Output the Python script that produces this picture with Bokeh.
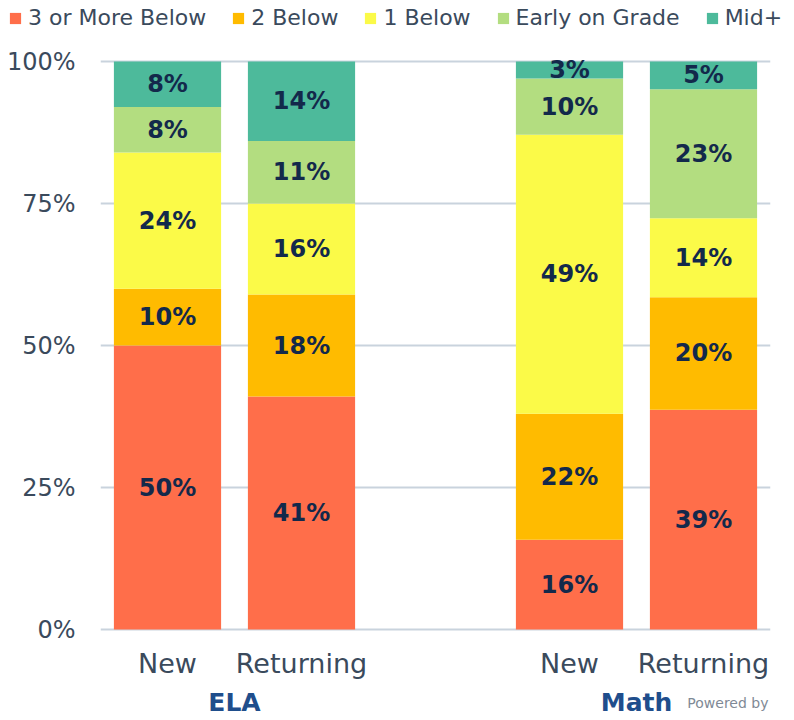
from bokeh.plotting import figure
from bokeh.models import (FactorRange, Range1d, FixedTicker, PrintfTickFormatter,
                          ColumnDataSource)
from bokeh.embed import file_html
from bokeh.resources import INLINE
from bokeh.core.properties import value

# ---------------- data ----------------
subjects = ["ELA", "ELA", "Math", "Math"]
groups = ["New", "Returning", "New", "Returning"]
subject_names = ["ELA", "Math"]
levels = ["3 or More Below", "2 Below", "1 Below", "Early on Grade", "Mid+"]
colors = ["#FF6E4A", "#FFBB00", "#FBFA48", "#B3DD80", "#4DBA9B"]

three_below = [50, 41, 15.8, 38.7]
two_below = [10, 18, 22.2, 19.8]
one_below = [24, 16, 49.1, 13.9]
early_on_grade = [8, 11, 9.9, 22.7]
mid_plus = [8, 14, 3.0, 4.9]

y_ticks = [0, 25, 50, 75, 100]

series = [three_below, two_below, one_below, early_on_grade, mid_plus]
keys = ["s0", "s1", "s2", "s3", "s4"]

FONT = "DejaVu Sans"
TXT = "#3A4A5C"
LBL = "#13294B"
W = 794

# ---------------- legend strip (own root, full-width frame) ----------------
LH = 45
leg = figure(width=W, height=LH, output_backend="svg", toolbar_location=None,
             x_range=Range1d(0, 1), y_range=Range1d(0, 1),
             min_border_left=0, min_border_right=0, min_border_top=0, min_border_bottom=0)
leg.xaxis.visible = False
leg.yaxis.visible = False
leg.grid.visible = False
leg.outline_line_color = None
for name, c in zip(levels, colors):
    # legend key proxies (the renderers themselves are hidden)
    leg.vbar(x=[0.5], top=[1], width=0.1, color=c, line_color=None,
             legend_label=name, visible=False)
lg = leg.legend[0]
lg.orientation = "horizontal"
lg.location = (8, 15)
lg.padding = 0
lg.margin = 0
lg.spacing = 25
lg.glyph_width = 14
lg.glyph_height = 14
lg.label_standoff = 6
lg.label_text_font = FONT
lg.label_text_font_size = "22px"
lg.label_text_color = TXT
lg.border_line_color = None
lg.background_fill_alpha = 0
lg.inactive_fill_alpha = 0

# ---------------- main chart ----------------
MH = 672
TOP = 14                      # frame top sits 59 px below page top
PX_PER_UNIT = 5.68            # 568 px for 0..100 %
TOP_PAD = 2.0 / PX_PER_UNIT
BOTTOM_EXTRA = (MH - TOP - 2 - 568) / PX_PER_UNIT   # room for the category labels

factors = list(zip(subjects, groups))
src = ColumnDataSource(dict(x=factors, **{k: s for k, s in zip(keys, series)}))

p = figure(width=W, height=MH, output_backend="svg", toolbar_location=None,
           x_range=FactorRange(*factors, group_padding=1.0, range_padding=0, factor_padding=0),
           y_range=Range1d(-BOTTOM_EXTRA, 100 + TOP_PAD),
           min_border_left=100, min_border_right=24, min_border_top=TOP, min_border_bottom=0)
p.outline_line_color = None
p.background_fill_color = "white"

p.vbar_stack(keys, x="x", width=0.8, color=colors, line_color=None, source=src)

# segment labels
lx, ly, lt = [], [], []
for i, f in enumerate(factors):
    bottom = 0.0
    for s in series:
        v = s[i]
        lx.append(f)
        ly.append(bottom + v / 2.0)
        lt.append("%d%%" % round(v))
        bottom += v
lsrc = ColumnDataSource(dict(x=lx, y=ly, t=lt))
p.text(x="x", y="y", text="t", source=lsrc, text_align="center", text_baseline="middle",
       text_font=value(FONT), text_font_style="bold", text_font_size="24px", text_color=LBL)

# category labels below the bars (through the categorical scale)
sub_y = -34 / PX_PER_UNIT
grp_y = -73 / PX_PER_UNIT
sub_src = ColumnDataSource(dict(x=factors, y=[sub_y] * len(factors), t=groups))
p.text(x="x", y="y", text="t", source=sub_src, text_align="center", text_baseline="middle",
       text_font=value(FONT), text_font_size="27px", text_color=TXT)
grp_src = ColumnDataSource(dict(x=subject_names, y=[grp_y] * len(subject_names), t=subject_names))
p.text(x="x", y="y", text="t", source=grp_src, text_align="center", text_baseline="middle",
       text_font=value(FONT), text_font_style="bold", text_font_size="25px", text_color="#1F4E8C")
p.text(x=[4.985], y=[grp_y], text=["Powered by"], text_align="right", text_baseline="middle",
       text_font=value(FONT), text_font_size="14px", text_color="#7F8A96")

# y axis / grid
p.ygrid.ticker = FixedTicker(ticks=y_ticks)
p.yaxis.ticker = FixedTicker(ticks=y_ticks)
p.yaxis.formatter = PrintfTickFormatter(format="%d%%")
p.ygrid.grid_line_color = "#C9D3DD"
p.ygrid.grid_line_width = 2
p.xgrid.grid_line_color = None
p.xaxis.visible = False

ax = p.yaxis[0]
ax.axis_line_color = None
ax.major_tick_line_color = None
ax.minor_tick_line_color = None
ax.major_tick_out = 0
ax.major_tick_in = 0
ax.major_label_text_font = FONT
ax.major_label_text_color = TXT
ax.major_label_text_font_size = "24px"
ax.major_label_standoff = 25

open("out.html", "w").write(file_html([leg, p], INLINE))
